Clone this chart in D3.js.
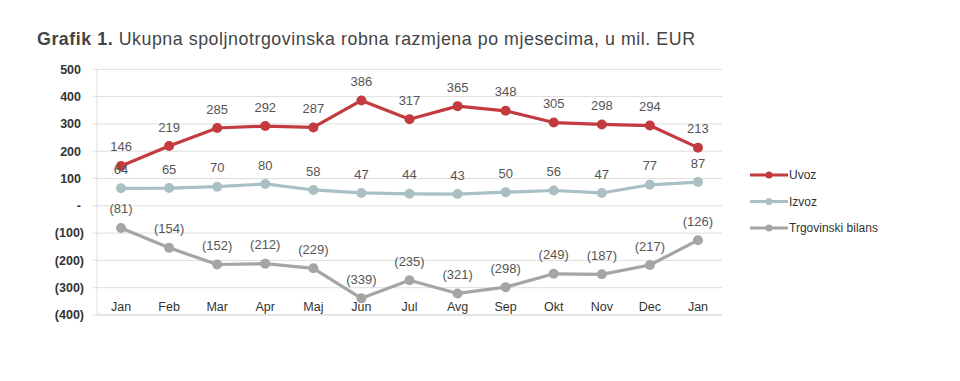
<!DOCTYPE html>
<html><head><meta charset="utf-8">
<script src="https://cdn.jsdelivr.net/npm/d3@7"></script>
<style>body{margin:0;background:#fff}svg{display:block;font-family:"Liberation Sans",Arial,sans-serif}</style>
</head><body><svg id="c" width="960" height="381"></svg>
<script>
const categories = ["Jan","Feb","Mar","Apr","Maj","Jun","Jul","Avg","Sep","Okt","Nov","Dec","Jan"];
const uvoz = [146,219,285,292,287,386,317,365,348,305,298,294,213];
const izvoz = [64,65,70,80,58,47,44,43,50,56,47,77,87];
const bilans = [-81,-154,-215,-212,-229,-339,-273,-321,-298,-249,-251,-217,-126];
const bilansLabels = ["(81)","(154)","(152)","(212)","(229)","(339)","(235)","(321)","(298)","(249)","(187)","(217)","(126)"];
const yTicks = [500,400,300,200,100,0,-100,-200,-300,-400];
const seriesNames = ["Uvoz","Izvoz","Trgovinski bilans"];

const svg = d3.select("#c");
const L = 97, R = 722, T = 69.3, B = 315;
const x = d3.scaleBand().domain(d3.range(categories.length)).range([L, R]);
const y = d3.scaleLinear().domain([-400, 500]).range([B, T]);
const cx = i => x(i) + x.bandwidth()/2;

// title
const title = svg.append("text").attr("x", 37).attr("y", 45).attr("font-size", 17.8)
  .attr("fill", "#444").attr("textLength", 658).attr("lengthAdjust", "spacing");
title.append("tspan").attr("font-weight", "bold").text("Grafik 1.");
title.append("tspan").text(" Ukupna spoljnotrgovinska robna razmjena po mjesecima, u mil. EUR");

// gridlines
svg.append("g").selectAll("line").data(yTicks).join("line")
  .attr("x1", L).attr("x2", R).attr("y1", d => y(d)).attr("y2", d => y(d))
  .attr("stroke", d => d === -400 ? "#c8c8c8" : "#dedede").attr("stroke-width", 1);
svg.append("line").attr("x1", L).attr("x2", L).attr("y1", T).attr("y2", B).attr("stroke", "#e0e0e0");
svg.append("g").selectAll("line").data(yTicks).join("line")
  .attr("x1", L - 4).attr("x2", L).attr("y1", d => y(d)).attr("y2", d => y(d)).attr("stroke", "#e0e0e0");

// y axis labels
const fmt = d => d === 0 ? "-" : d < 0 ? "(" + (-d) + ")" : String(d);
svg.append("g").selectAll("text").data(yTicks).join("text")
  .attr("x", d => d < 0 ? 84 : 81).attr("y", d => y(d)).attr("dy", "0.35em")
  .attr("text-anchor", "end").attr("font-size", 12.5).attr("font-weight", "bold").attr("fill", "#333")
  .text(fmt);

// x labels
svg.append("g").selectAll("text").data(categories).join("text")
  .attr("x", (d, i) => cx(i)).attr("y", 307).attr("dy", "0.35em")
  .attr("text-anchor", "middle").attr("font-size", 12.5).attr("fill", "#333")
  .text(d => d);

const series = [
  {name: seriesNames[0], vals: uvoz, labels: uvoz.map(String), color: "#c33b3e"},
  {name: seriesNames[1], vals: izvoz, labels: izvoz.map(String), color: "#a9bfc4"},
  {name: seriesNames[2], vals: bilans, labels: bilansLabels, color: "#a5a5a5"}
];
const line = d3.line().x((d, i) => cx(i)).y(d => y(d));
series.forEach(s => {
  const g = svg.append("g");
  g.append("path").attr("d", line(s.vals)).attr("fill", "none").attr("stroke", s.color).attr("stroke-width", 3.2).attr("stroke-linejoin", "round");
  g.selectAll("circle").data(s.vals).join("circle")
    .attr("cx", (d, i) => cx(i)).attr("cy", d => y(d)).attr("r", 5).attr("fill", s.color);
});
series.forEach(s => {
  svg.append("g").selectAll("text").data(s.vals).join("text")
    .attr("x", (d, i) => cx(i)).attr("y", d => y(d) - 19).attr("dy", "0.35em")
    .attr("text-anchor", "middle").attr("font-size", 13).attr("fill", "#555")
    .text((d, i) => s.labels[i]);
});

// legend
const lg = svg.append("g");
series.forEach((s, i) => {
  const yy = 175 + i * 26.5;
  lg.append("line").attr("x1", 750).attr("x2", 788).attr("y1", yy).attr("y2", yy).attr("stroke", s.color).attr("stroke-width", 3);
  lg.append("circle").attr("cx", 769).attr("cy", yy).attr("r", 3.5).attr("fill", s.color);
  lg.append("text").attr("x", 789).attr("y", yy).attr("dy", "0.35em").attr("font-size", 12).attr("fill", "#333").text(s.name);
});
</script></body></html>
